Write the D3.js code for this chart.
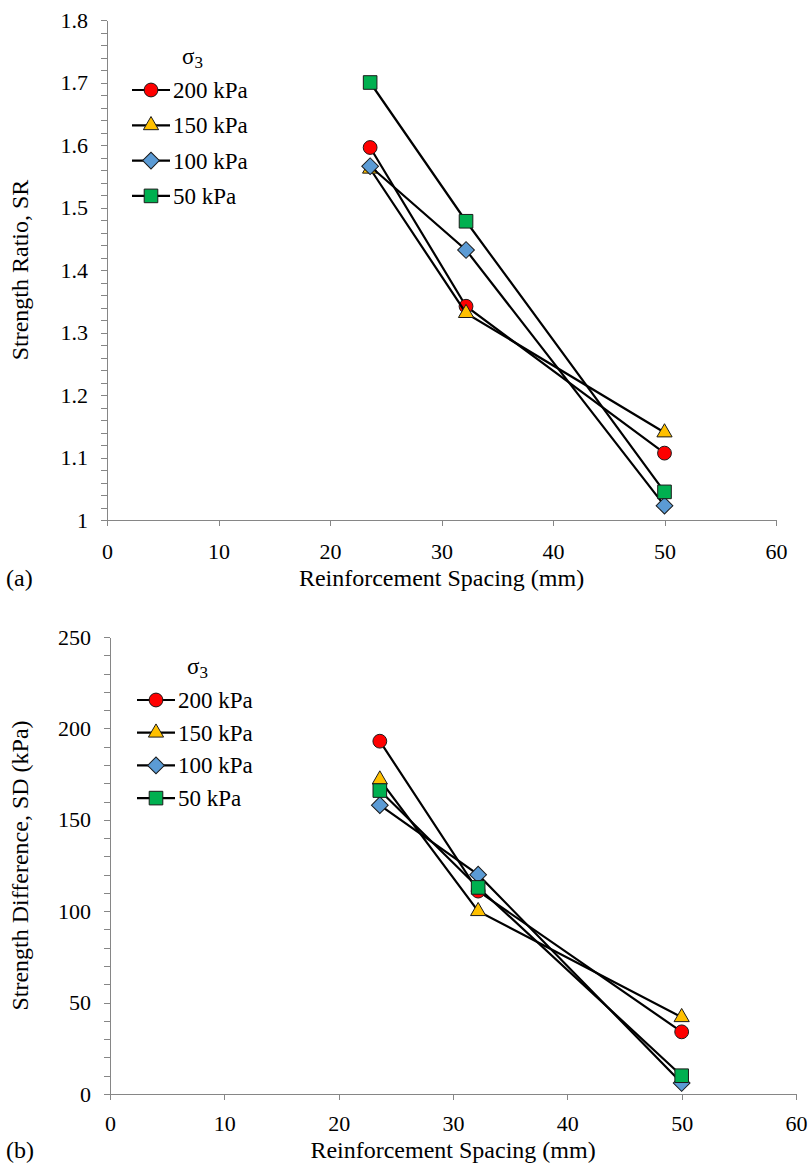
<!DOCTYPE html>
<meta charset="utf-8">
<style>
body { margin: 0; background: #fff; }
svg text { font-family: "Liberation Serif", Times, "DejaVu Serif", serif; fill: #000; }
.axis path, .axis line { stroke: #868686; stroke-width: 1px; shape-rendering: crispEdges; }
.axis text { font-size: 22px; }
.title { font-size: 24px; }
.leg { font-size: 23px; }
.series-line { fill: none; stroke: #000; stroke-width: 2.2px; }
.mark { stroke: #1a1a1a; stroke-width: 1px; }
</style>
<body>
<script src="https://cdn.jsdelivr.net/npm/d3@7"></script>
<script>

// x values (reinforcement spacing, mm)
var spacing = [23.6, 32.2, 50];

// series labels, confining pressure
var seriesNames = ["200 kPa", "150 kPa", "100 kPa", "50 kPa"];
var seriesColors = ["#ff0000", "#ffc000", "#5b9bd5", "#00b050"];
var seriesShapes = ["circle", "triangle", "diamond", "square"];

// (a) strength ratio
var sr200 = [1.596, 1.342, 1.107];
var sr150 = [1.562, 1.331, 1.140];
var sr100 = [1.566, 1.432, 1.023];
var sr50  = [1.700, 1.478, 1.045];

// (b) strength difference (kPa)
var sd200 = [193, 111, 34];
var sd150 = [172, 100, 42];
var sd100 = [158, 120, 6];
var sd50  = [166, 113, 10];

var xTicks = [0, 10, 20, 30, 40, 50, 60];
var srTicks = [1, 1.1, 1.2, 1.3, 1.4, 1.5, 1.6, 1.7, 1.8];
var sdTicks = [0, 50, 100, 150, 200, 250];

var svg = d3.select("body").append("svg")
    .attr("width", 809)
    .attr("height", 1167);

function symbolPath(shape) {
  if (shape == "circle") return d3.symbol().type(d3.symbolCircle).size(150)();
  if (shape == "triangle") return d3.symbol().type(d3.symbolTriangle).size(100)();
  if (shape == "square") return d3.symbol().type(d3.symbolSquare).size(185)();
  return d3.symbol().type(d3.symbolSquare).size(140)();
}

function addMarker(g, shape, color, cx, cy) {
  g.append("path")
    .attr("class", "mark")
    .attr("d", symbolPath(shape))
    .attr("transform", "translate(" + cx + "," + cy + ")" + (shape == "diamond" ? " rotate(45)" : ""))
    .style("fill", color);
}

function panel(opt) {
  var x = d3.scaleLinear().domain([0, 60]).range([opt.left, opt.right]);
  var y = d3.scaleLinear().domain(opt.yDomain).range([opt.bottom, opt.top]);

  // minor y ticks
  svg.append("g")
    .attr("class", "axis")
    .attr("transform", "translate(" + opt.left + ",0)")
    .call(d3.axisLeft(y).tickValues(opt.minor).tickSize(6).tickFormat(""))
    .select(".domain").remove();

  svg.append("g")
    .attr("class", "axis")
    .attr("transform", "translate(" + opt.left + ",0)")
    .call(d3.axisLeft(y).tickValues(opt.yTicks).tickSize(6).tickSizeOuter(0)
      .tickPadding(13).tickFormat(d3.format("~g")));

  svg.append("g")
    .attr("class", "axis")
    .attr("transform", "translate(0," + opt.bottom + ")")
    .call(d3.axisBottom(x).tickValues(xTicks).tickSize(6).tickSizeOuter(0)
      .tickPadding(opt.xPad));

  svg.selectAll(".axis text").attr("font-family", null);

  svg.append("text")
    .attr("class", "title")
    .attr("x", (opt.left + opt.right) / 2)
    .attr("y", opt.titleY)
    .attr("text-anchor", "middle")
    .text("Reinforcement Spacing (mm)");

  svg.append("text")
    .attr("class", "title")
    .attr("x", 6)
    .attr("y", opt.titleY)
    .text(opt.tag);

  svg.append("text")
    .attr("class", "title")
    .attr("transform", "translate(28," + (opt.top + opt.bottom) / 2 + ") rotate(-90)")
    .attr("text-anchor", "middle")
    .text(opt.yTitle);

  var line = d3.line()
    .x(function(d, i) { return x(spacing[i]); })
    .y(function(d) { return y(d); });

  opt.series.forEach(function(vals, k) {
    var g = svg.append("g");
    g.append("path").attr("class", "series-line").attr("d", line(vals));
    vals.forEach(function(v, i) {
      addMarker(g, seriesShapes[k], seriesColors[k], x(spacing[i]), y(v));
    });
  });

  // legend
  var lg = svg.append("g");
  var sig = lg.append("text").attr("class", "leg").attr("x", opt.legX + 50).attr("y", opt.legY - 26);
  sig.append("tspan").text("σ");
  sig.append("tspan").attr("dy", 4).style("font-size", "17px").text("3");
  seriesNames.forEach(function(name, k) {
    var yy = opt.legY + k * opt.legStep;
    lg.append("line")
      .attr("x1", opt.legX).attr("x2", opt.legX + 38)
      .attr("y1", yy).attr("y2", yy)
      .style("stroke", "#000").style("stroke-width", 2.2);
    addMarker(lg, seriesShapes[k], seriesColors[k], opt.legX + 19, yy);
    lg.append("text")
      .attr("class", "leg")
      .attr("x", opt.legX + 41)
      .attr("y", yy)
      .attr("dy", "0.35em")
      .text(name);
  });
}

panel({
  left: 107, right: 776, top: 20, bottom: 520,
  yDomain: [1, 1.8], yTicks: srTicks, minor: d3.range(0, 41).map(function(i) { return 1 + i * 0.02; }),
  xPad: 17, titleY: 586, tag: "(a)", yTitle: "Strength Ratio, SR",
  series: [sr200, sr150, sr100, sr50],
  legX: 132, legY: 90, legStep: 35.3
});

panel({
  left: 110, right: 796, top: 637, bottom: 1094,
  yDomain: [0, 250], yTicks: sdTicks, minor: d3.range(0, 26).map(function(i) { return i * 10; }),
  xPad: 15, titleY: 1158, tag: "(b)", yTitle: "Strength Difference, SD (kPa)",
  series: [sd200, sd150, sd100, sd50],
  legX: 137, legY: 700, legStep: 32.7
});

</script>
